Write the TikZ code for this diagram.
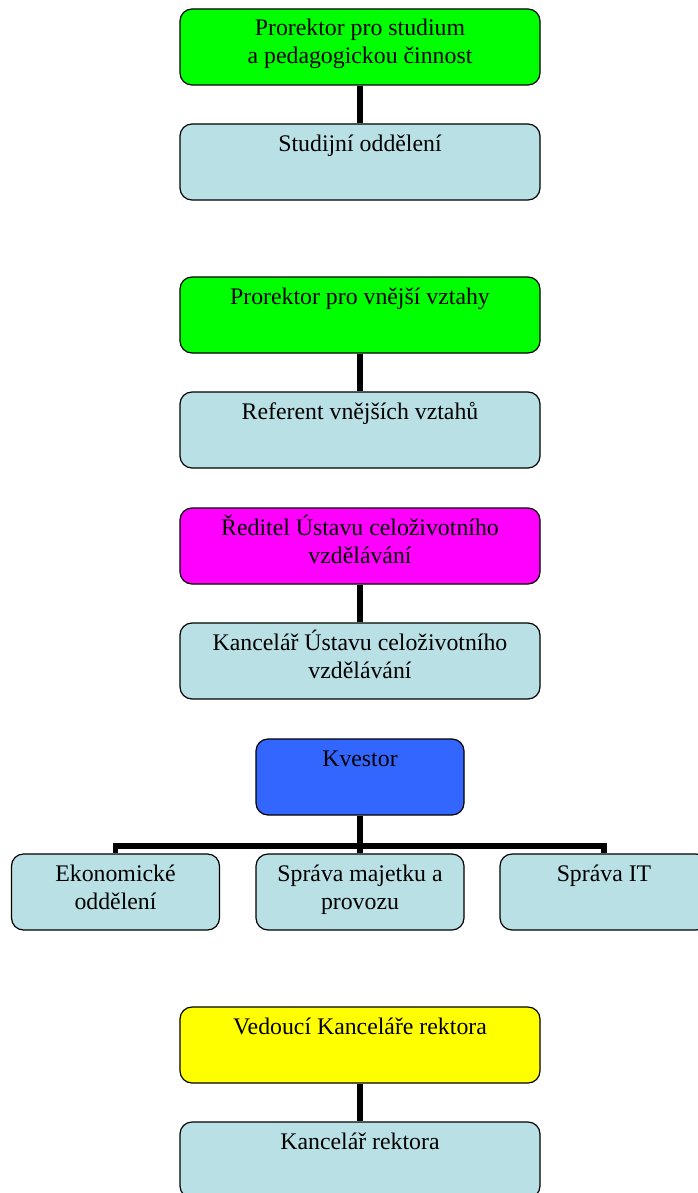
\documentclass[tikz,border=0pt]{standalone}
\usepackage{fontspec}
\setmainfont{Liberation Serif}
\usetikzlibrary{positioning}

\definecolor{headgreen}{RGB}{0,255,0}
\definecolor{headmagenta}{RGB}{255,0,255}
\definecolor{headblue}{RGB}{51,102,255}
\definecolor{headyellow}{RGB}{255,255,0}
\definecolor{unitblue}{RGB}{185,224,228}

\newcommand{\toptext}[2]{\parbox[c][38pt][t]{#1}{\centering\rule{0pt}{13.5pt}#2}}

\begin{document}
\begin{tikzpicture}[x=0.5pt,y=-0.5pt,
unit/.style={draw=black,line width=0.6pt,rounded corners=6pt,inner sep=0pt,fill=unitblue,font=\fontsize{11.9}{14}\selectfont},
head/.style={unit,fill=#1},
link/.style={black,line width=2.6pt}]

\useasboundingbox (0,0) rectangle (697,1193);

\node (p1) at (360,47) [head=headgreen] {\toptext{180pt}{Prorektor pro studium\\a pedagogickou činnost}};
\node (s1) at (360,162) [unit] {\toptext{180pt}{Studijní oddělení}};

\node (p2) at (360,315) [head=headgreen] {\toptext{180pt}{Prorektor pro vnější vztahy}};
\node (s2) at (360,430) [unit] {\toptext{180pt}{Referent vnějších vztahů}};

\node (p3) at (360,546) [head=headmagenta] {\toptext{180pt}{Ředitel Ústavu celoživotního\\vzdělávání}};
\node (s3) at (360,661) [unit] {\toptext{180pt}{Kancelář Ústavu celoživotního\\vzdělávání}};

\node (kv) at (360,777) [head=headblue] {\toptext{104pt}{Kvestor}};
\node (k1) at (115.5,892) [unit] {\toptext{104pt}{Ekonomické\\oddělení}};
\node (k2) at (360,892) [unit] {\toptext{104pt}{Správa majetku a\\provozu}};
\node (k3) at (604,892) [unit] {\toptext{104pt}{Správa IT}};
\coordinate (bus) at (360,846);

\node (p4) at (360,1045) [head=headyellow] {\toptext{180pt}{Vedoucí Kanceláře rektora}};
\node (s4) at (360,1160) [unit] {\toptext{180pt}{Kancelář rektora}};

\draw [link] (p1) -- (s1);
\draw [link] (p2) -- (s2);
\draw [link] (p3) -- (s3);
\draw [link] (p4) -- (s4);

\draw [link] (kv) -- (bus);
\draw [link] (k2) -- (bus);
\draw [link] (k1.north) |- (bus) -| (k3.north);

\end{tikzpicture}
\end{document}
